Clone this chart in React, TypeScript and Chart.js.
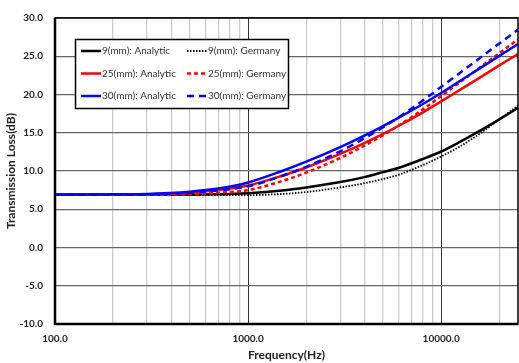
import React, { useEffect, useRef } from "react";
import { Chart, registerables } from "chart.js";

Chart.register(...registerables);

const freqs = [100, 200, 300, 500, 700, 1000, 1500, 2000, 3000, 4000, 5000, 6000, 8000, 10000, 12500, 16000, 20000, 25000];
const analytic9 = [6.9, 6.9, 6.9, 6.9, 6.95, 7.1, 7.45, 7.85, 8.55, 9.2, 9.85, 10.4, 11.55, 12.55, 13.8, 15.3, 16.75, 18.25];
const germany9 = [6.9, 6.9, 6.9, 6.85, 6.85, 6.85, 7.0, 7.25, 7.85, 8.4, 8.95, 9.5, 10.75, 11.9, 13.2, 14.95, 16.75, 18.55];
const analytic25 = [6.9, 6.9, 6.95, 7.15, 7.5, 8.1, 9.38, 10.46, 12.23, 13.64, 14.84, 15.88, 17.64, 19.1, 20.6, 22.27, 23.8, 25.3];
const germany25 = [6.9, 6.9, 6.9, 6.95, 7.15, 7.5, 8.69, 9.79, 11.7, 13.3, 14.69, 15.91, 18.02, 19.8, 21.6, 23.6, 25.4, 27.2];
const analytic30 = [6.9, 6.95, 7.0, 7.3, 7.7, 8.5, 10.0, 11.22, 13.13, 14.63, 15.88, 16.95, 18.73, 20.2, 21.76, 23.48, 25.05, 26.6];
const germany30 = [6.9, 6.9, 6.95, 7.15, 7.45, 8.0, 9.35, 10.55, 12.58, 14.27, 15.72, 16.99, 19.17, 21.0, 22.82, 24.84, 26.66, 28.48];

const xGridValues = [100, 200, 300, 400, 500, 600, 700, 800, 900, 1000, 2000, 3000, 4000, 5000, 6000, 7000, 8000, 9000, 10000, 20000];
const xLabelValues = [100, 1000, 10000];
const yMin = -10;
const yMax = 30;
const yStep = 5;
const xMin = 100;
const xMax = 25000;

const xTitle = "Frequency(Hz)";
const yTitle = "Transmission Loss(dB)";

const series = [
  { label: "30(mm): Analytic", values: analytic30, color: "#0000ff", dash: [] as number[], width: 2.5 },
  { label: "30(mm): Germany", values: germany30, color: "#0000ff", dash: [7, 5], width: 2.5 },
  { label: "25(mm): Analytic", values: analytic25, color: "#ff0000", dash: [] as number[], width: 2.5 },
  { label: "25(mm): Germany", values: germany25, color: "#ff0000", dash: [4, 3], width: 2.5 },
  { label: "9(mm): Analytic", values: analytic9, color: "#000000", dash: [] as number[], width: 2.5 },
  { label: "9(mm): Germany", values: germany9, color: "#000000", dash: [1.5, 1.5], width: 1.8 },
];

const legendRows = [
  ["9(mm): Analytic", "9(mm): Germany"],
  ["25(mm): Analytic", "25(mm): Germany"],
  ["30(mm): Analytic", "30(mm): Germany"],
];

const decorPlugin = {
  id: "decor",
  afterDraw(chart: any) {
    const { ctx, chartArea: a } = chart;
    ctx.save();
    ctx.strokeStyle = "#000";
    ctx.setLineDash([]);
    ctx.lineWidth = 1.5;
    ctx.strokeRect(a.left, a.top, a.right - a.left, a.bottom - a.top);
    ctx.lineWidth = 2.5;
    ctx.beginPath();
    ctx.moveTo(a.left, a.top);
    ctx.lineTo(a.left, a.bottom);
    ctx.lineTo(a.right, a.bottom);
    ctx.stroke();

    const bx = 75.5, by = 39.5, bw = 213, bh = 69;
    ctx.fillStyle = "#ffffff";
    ctx.fillRect(bx, by, bw, bh);
    ctx.lineWidth = 1.5;
    ctx.strokeStyle = "#000";
    ctx.strokeRect(bx, by, bw, bh);
    const colX = [81, 187];
    const rowY = [51, 73.5, 96];
    ctx.font = "10px Lato";
    ctx.textBaseline = "middle";
    ctx.textAlign = "left";
    legendRows.forEach((row, r) => {
      row.forEach((lab, c) => {
        const s = series.find((q) => q.label === lab)!;
        const x0 = colX[c];
        const y0 = rowY[r];
        ctx.strokeStyle = s.color;
        ctx.lineWidth = s.width;
        ctx.setLineDash(s.dash);
        ctx.beginPath();
        ctx.moveTo(x0, y0);
        ctx.lineTo(x0 + 20, y0);
        ctx.stroke();
        ctx.setLineDash([]);
        ctx.fillStyle = "#333";
        ctx.fillText(lab, x0 + 21, y0);
      });
    });

    ctx.fillStyle = "#222";
    ctx.font = "bold 12px Lato";
    ctx.textAlign = "center";
    ctx.textBaseline = "middle";
    ctx.fillText(xTitle, (a.left + a.right) / 2, 355);
    ctx.translate(11, (a.top + a.bottom) / 2);
    ctx.rotate(-Math.PI / 2);
    ctx.fillText(yTitle, 0, 0);
    ctx.restore();
  },
};

export default function App() {
  const ref = useRef<HTMLCanvasElement>(null);
  useEffect(() => {
    document.body.style.margin = "0";
    const chart = new Chart(ref.current!, {
      type: "line",
      data: {
        datasets: series.map((s) => ({
          label: s.label,
          data: freqs.map((f, i) => ({ x: f, y: s.values[i] })),
          borderColor: s.color,
          backgroundColor: s.color,
          borderWidth: s.width,
          borderDash: s.dash,
          pointRadius: 0,
          fill: false,
          cubicInterpolationMode: "monotone" as const,
        })),
      },
      options: {
        animation: false,
        responsive: true,
        maintainAspectRatio: false,
        layout: { padding: { top: 13, right: 1, left: 0, bottom: 0 } },
        plugins: { legend: { display: false }, tooltip: { enabled: false } },
        scales: {
          x: {
            type: "logarithmic",
            min: xMin,
            max: xMax,
            afterBuildTicks: (scale: any) => {
              scale.ticks = xGridValues.map((v) => ({ value: v, major: xLabelValues.includes(v) }));
            },
            afterFit: (scale: any) => {
              scale.height = 39;
            },
            border: { display: false },
            grid: {
              drawTicks: false,
              color: (c: any) => (c.tick && xLabelValues.includes(c.tick.value) ? "#333333" : "#cccccc"),
              lineWidth: (c: any) => (c.tick && xLabelValues.includes(c.tick.value) ? 1 : 1.3),
            },
            ticks: {
              autoSkip: false,
              maxRotation: 0,
              padding: 9,
              color: "#222",
              font: { family: "Lato", size: 10, weight: "bold" },
              callback: (v: any) => (xLabelValues.includes(Number(v)) ? Number(v).toFixed(1) : ""),
            },
          },
          y: {
            type: "linear",
            min: yMin,
            max: yMax,
            afterFit: (scale: any) => {
              scale.width = 55;
            },
            border: { display: false },
            grid: { drawTicks: false, color: "#666666", lineWidth: 1.2 },
            ticks: {
              stepSize: yStep,
              padding: 12,
              color: "#222",
              font: { family: "Lato", size: 10, weight: "bold" },
              callback: (v: any) => Number(v).toFixed(1),
            },
          },
        },
      },
      plugins: [decorPlugin],
    });
    return () => chart.destroy();
  }, []);
  return (
    <div style={{ position: "absolute", left: 0, top: 0, width: 519, height: 363 }}>
      <canvas ref={ref} />
    </div>
  );
}
